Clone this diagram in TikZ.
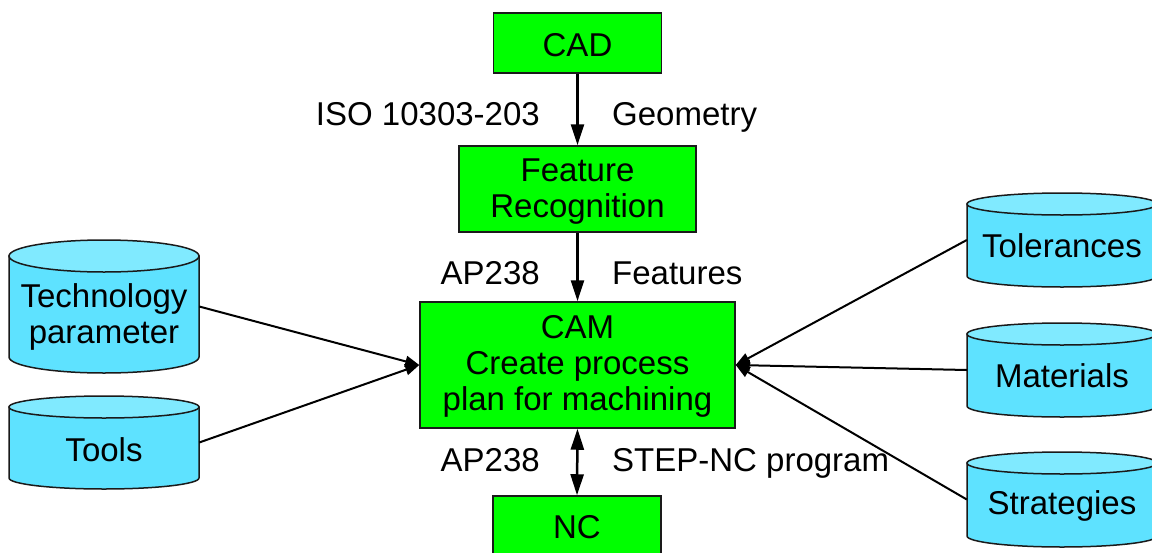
\documentclass[tikz,border=0pt]{standalone}
\usepackage{fontspec}
\setmainfont{Liberation Sans}
\usetikzlibrary{arrows.meta}

\definecolor{procgreen}{HTML}{00FF00}
\definecolor{dbbody}{HTML}{5EE2FF}
\definecolor{dbtop}{HTML}{80EAFF}
\definecolor{edge}{HTML}{1A1A1A}

\tikzset{
  txt/.style={font=\fontsize{33}{36}\selectfont, inner sep=0pt},
  proc/.style={draw=edge, line width=1.5pt, fill=procgreen, inner sep=0pt},
  dbshape/.style={draw=edge, line width=1.5pt},
  dbanchor/.style={inner sep=0pt, minimum width=190pt},
  flow/.style={line width=2.5pt, -{Triangle[length=21pt,width=13pt]}},
  bothflow/.style={line width=2.5pt, {Triangle[length=21pt,width=13pt]}-{Triangle[length=21pt,width=13pt]}},
  feed/.style={line width=2pt, -{Triangle[length=14pt,width=11pt]}}
}

% data store: name, centre x, top-ellipse y, bottom-ellipse y, half height of the ellipses, label offset, label
\newcommand{\storecyl}[7]{%
  \path[dbshape, fill=dbbody]
    (#2-95,#3) -- (#2-95,#4)
    arc[start angle=180, end angle=360, x radius=95pt, y radius=#5pt]
    -- (#2+95,#3) -- cycle;
  \path[dbshape, fill=dbtop] (#2,#3) ellipse[x radius=95pt, y radius=#5pt];
  \node[dbanchor, minimum height={(#4-#3)*1pt}] (#1) at (#2,{(#3+#4)/2}) {};
  \node[txt, align=center] (#1-text) at (#2,{(#3+#4)/2+#6}) {#7};
}

\begin{document}
\begin{tikzpicture}[x=1pt, y=-1pt]
  \useasboundingbox (0,0) rectangle (1152,552);
  \clip (0,0) rectangle (1152,552);

  % process chain
  \node[proc, minimum width=168pt, minimum height=60pt] (cad) at (577.5,43) {};
  \node[txt] (cad-text) at (577.5,45) {CAD};
  \node[proc, minimum width=237pt, minimum height=86pt] (fr) at (577.5,189) {};
  \node[txt, align=center] (fr-text) at (577.5,192) {Feature\\Recognition};
  \node[proc, minimum width=315pt, minimum height=126pt] (cam) at (577.5,365) {};
  \node[txt, align=center] (cam-text) at (577.5,366) {CAM\\Create process\\plan for machining};
  \node[proc, minimum width=168pt, minimum height=70pt] (nc) at (577,531) {};
  \node[txt] (nc-text) at (577,527) {NC};

  % data stores
  \storecyl{tech}{104}{256}{357}{16}{10}{Technology\\parameter}
  \storecyl{tools}{104}{407}{478}{11}{7}{Tools}
  \storecyl{tol}{1062}{204}{276}{11}{6}{Tolerances}
  \storecyl{mat}{1062}{334}{406}{11}{6}{Materials}
  \storecyl{strat}{1062}{463}{536}{11}{6}{Strategies}

  % data exchange along the chain
  \draw[flow] (cad.south) -- (fr.north);
  \draw[flow] (fr.south) -- (cam.north);
  \draw[bothflow] (cam.south) -- (nc.north);

  \node[txt, anchor=base east] (iso) at (540,125) {ISO 10303-203};
  \node[txt, anchor=base west] (geo) at (612,125) {Geometry};
  \node[txt, anchor=base east] (ap1) at (540,284) {AP238};
  \node[txt, anchor=base west] (feat) at (612,284) {Features};
  \node[txt, anchor=base east] (ap2) at (540,471) {AP238};
  \node[txt, anchor=base west] (stepnc) at (612,471) {STEP-NC program};

  % inputs to CAM
  \draw[feed] (tech.east) -- (cam.west);
  \draw[feed] (tools.east) -- (cam.west);
  \draw[feed] (tol.west) -- (cam.east);
  \draw[feed] (mat.west) -- (cam.east);
  \draw[feed] (strat.west) -- (cam.east);
\end{tikzpicture}
\end{document}
